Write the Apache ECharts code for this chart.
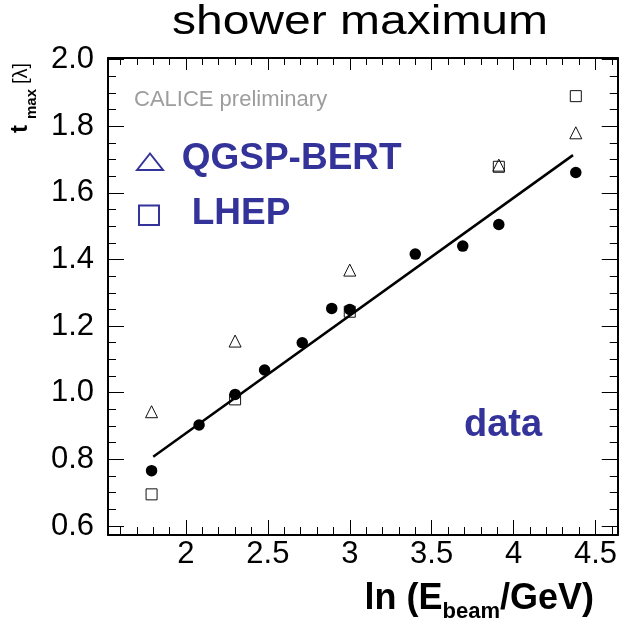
<!DOCTYPE html>
<html><head><meta charset="utf-8">
<script src="https://cdn.jsdelivr.net/npm/echarts@6/dist/echarts.min.js"></script>
<style>html,body{margin:0;padding:0;background:#fff}#c{width:620px;height:624px}</style>
</head><body><div id="c"></div>
<script>
// ---- data ----
const chartTitle = 'shower maximum';
const xTickLabels = [2, 2.5, 3, 3.5, 4, 4.5];
const xMinorTicks = [1.6, 1.7, 1.8, 1.9, 2.0, 2.1, 2.2, 2.3, 2.4, 2.5, 2.6, 2.7, 2.8, 2.9, 3.0, 3.1, 3.2, 3.3, 3.4, 3.5, 3.6, 3.7, 3.8, 3.9, 4.0, 4.1, 4.2, 4.3, 4.4, 4.5, 4.6];
const yTickLabels = [0.6, 0.8, 1.0, 1.2, 1.4, 1.6, 1.8, 2.0];
const yMinorTicks = [0.6, 0.65, 0.7, 0.75, 0.8, 0.85, 0.9, 0.95, 1.0, 1.05, 1.1, 1.15, 1.2, 1.25, 1.3, 1.35, 1.4, 1.45, 1.5, 1.55, 1.6, 1.65, 1.7, 1.75, 1.8, 1.85, 1.9, 1.95, 2.0];
const xRange = [1.524, 4.636];
const yRange = [0.573, 2.0045];

const dataLnE = [1.79, 2.08, 2.30, 2.48, 2.71, 2.89, 3.00, 3.40, 3.69, 3.91, 4.38];
const dataTmax = [0.766, 0.903, 0.995, 1.068, 1.150, 1.253, 1.250, 1.416, 1.440, 1.505, 1.661];
const simLnE = [1.79, 2.30, 3.00, 3.91, 4.38];
const qgspBert = [0.943, 1.155, 1.368, 1.683, 1.780];
const lhep = [0.695, 0.980, 1.243, 1.678, 1.890];
const fitLnE = [1.80, 4.363];
const fitTmax = [0.808, 1.713];

// ---- chart ----
const FONT = '"Liberation Sans", Arial, Helvetica, sans-serif';
const BLUE = '#333399';
const zip = (a, b) => a.map((v, i) => [v, b[i]]);

function axis(kind, pos, ticks, len, labels, showLine) {
  const a = {
    type: 'value', position: pos,
    min: kind === 'x' ? xRange[0] : yRange[0],
    max: kind === 'x' ? xRange[1] : yRange[1],
    axisLine: { show: showLine, onZero: false, lineStyle: { color: '#000', width: 2 } },
    axisTick: { show: true, inside: true, length: len, customValues: ticks, lineStyle: { color: '#000', width: 1 } },
    splitLine: { show: false },
    axisLabel: { show: false }
  };
  if (labels) {
    a.axisLabel = {
      show: true, customValues: labels, color: '#000', fontSize: 31, fontFamily: FONT,
      margin: kind === 'x' ? 4 : 14,
      formatter: kind === 'x' ? (v => String(+v.toFixed(2))) : (v => v.toFixed(1))
    };
  }
  return a;
}

const chart = echarts.init(document.getElementById('c'), null, { renderer: 'canvas' });
chart.setOption({
  backgroundColor: '#fff',
  animation: false,
  grid: { left: 108, top: 58, right: -2, bottom: 89, containLabel: false },
  xAxis: [
    axis('x', 'bottom', xTickLabels, 15, xTickLabels, true),
    axis('x', 'bottom', xMinorTicks, 8, null, false),
    axis('x', 'top', xTickLabels, 12, null, true),
    axis('x', 'top', xMinorTicks, 7, null, false)
  ],
  yAxis: [
    axis('y', 'left', yTickLabels, 16, yTickLabels, true),
    axis('y', 'left', yMinorTicks, 8, null, false),
    axis('y', 'right', yTickLabels, 16, null, true),
    axis('y', 'right', yMinorTicks, 8, null, false)
  ],
  series: [
    { name: 'LHEP', type: 'scatter', xAxisIndex: 0, yAxisIndex: 0, symbol: 'rect', symbolSize: 11,
      itemStyle: { color: 'rgba(0,0,0,0)', borderColor: '#111', borderWidth: 1, opacity: 1 }, data: zip(simLnE, lhep), z: 2 },
    { name: 'QGSP-BERT', type: 'scatter', xAxisIndex: 0, yAxisIndex: 0, symbol: 'triangle', symbolSize: 12,
      itemStyle: { color: 'rgba(0,0,0,0)', borderColor: '#111', borderWidth: 1, opacity: 1 }, data: zip(simLnE, qgspBert), z: 3 },
    { name: 'fit', type: 'line', xAxisIndex: 0, yAxisIndex: 0, showSymbol: false, symbol: 'none',
      lineStyle: { color: '#000', width: 2.5 }, data: zip(fitLnE, fitTmax), z: 4 },
    { name: 'data', type: 'scatter', xAxisIndex: 0, yAxisIndex: 0, symbol: 'circle', symbolSize: 11.5,
      itemStyle: { color: '#000', opacity: 1 }, data: zip(dataLnE, dataTmax), z: 5 }
  ],
  graphic: [
    { type: 'text', x: 360, y: 23, scaleX: 1.2,
      style: { text: chartTitle, fontSize: 40, fontFamily: FONT, fill: '#000', align: 'center', textAlign: 'center', verticalAlign: 'middle', textVerticalAlign: 'middle' } },
    { type: 'text', x: 134, y: 100.3,
      style: { text: 'CALICE preliminary', fontSize: 22, fontFamily: FONT, fill: '#9d9d9d', align: 'left', textAlign: 'left', verticalAlign: 'middle', textVerticalAlign: 'middle' } },
    { type: 'polygon', shape: { points: [[137, 170], [150, 153.5], [163, 170]] },
      style: { fill: 'none', stroke: BLUE, lineWidth: 2 } },
    { type: 'text', x: 181.7, y: 158.7,
      style: { text: 'QGSP-BERT', fontSize: 37, fontWeight: 'bold', fontFamily: FONT, fill: BLUE, align: 'left', textAlign: 'left', verticalAlign: 'middle', textVerticalAlign: 'middle' } },
    { type: 'rect', shape: { x: 139, y: 205.5, width: 20, height: 19.5 },
      style: { fill: 'none', stroke: BLUE, lineWidth: 2 } },
    { type: 'text', x: 191.7, y: 213.7,
      style: { text: 'LHEP', fontSize: 37, fontWeight: 'bold', fontFamily: FONT, fill: BLUE, align: 'left', textAlign: 'left', verticalAlign: 'middle', textVerticalAlign: 'middle' } },
    { type: 'text', x: 464, y: 426,
      style: { text: 'data', fontSize: 38, fontWeight: 'bold', fontFamily: FONT, fill: BLUE, align: 'left', textAlign: 'left', verticalAlign: 'middle', textVerticalAlign: 'middle' } },
    // y axis title (rotated)
    { type: 'text', x: 20.5, y: 133, rotation: Math.PI / 2,
      style: { text: 't', fontSize: 24, fontWeight: 'bold', fontFamily: FONT, fill: '#000', align: 'left', textAlign: 'left', verticalAlign: 'middle', textVerticalAlign: 'middle' } },
    { type: 'text', x: 31.5, y: 119, rotation: Math.PI / 2,
      style: { text: 'max', fontSize: 15, fontWeight: 'bold', fontFamily: FONT, fill: '#000', align: 'left', textAlign: 'left', verticalAlign: 'middle', textVerticalAlign: 'middle' } },
    { type: 'text', x: 21, y: 84, rotation: Math.PI / 2,
      style: { text: '[λ]', fontSize: 20, fontFamily: FONT, fill: '#000', align: 'left', textAlign: 'left', verticalAlign: 'middle', textVerticalAlign: 'middle' } },
    // x axis title
    { type: 'text', x: 594, y: 581.4,
      style: {
        text: '{a|ln (E}{b|beam}{a|/GeV)}', align: 'right', textAlign: 'right', verticalAlign: 'top', textVerticalAlign: 'top',
        fill: '#000',
        rich: {
          a: { fontSize: 36, fontWeight: 'bold', fontFamily: FONT, fill: '#000', lineHeight: 36, verticalAlign: 'top' },
          b: { fontSize: 22, fontWeight: 'bold', fontFamily: FONT, fill: '#000', lineHeight: 22, verticalAlign: 'top', padding: [20, 0, 0, 0] }
        }
      } }
  ]
});
</script>
</body></html>
